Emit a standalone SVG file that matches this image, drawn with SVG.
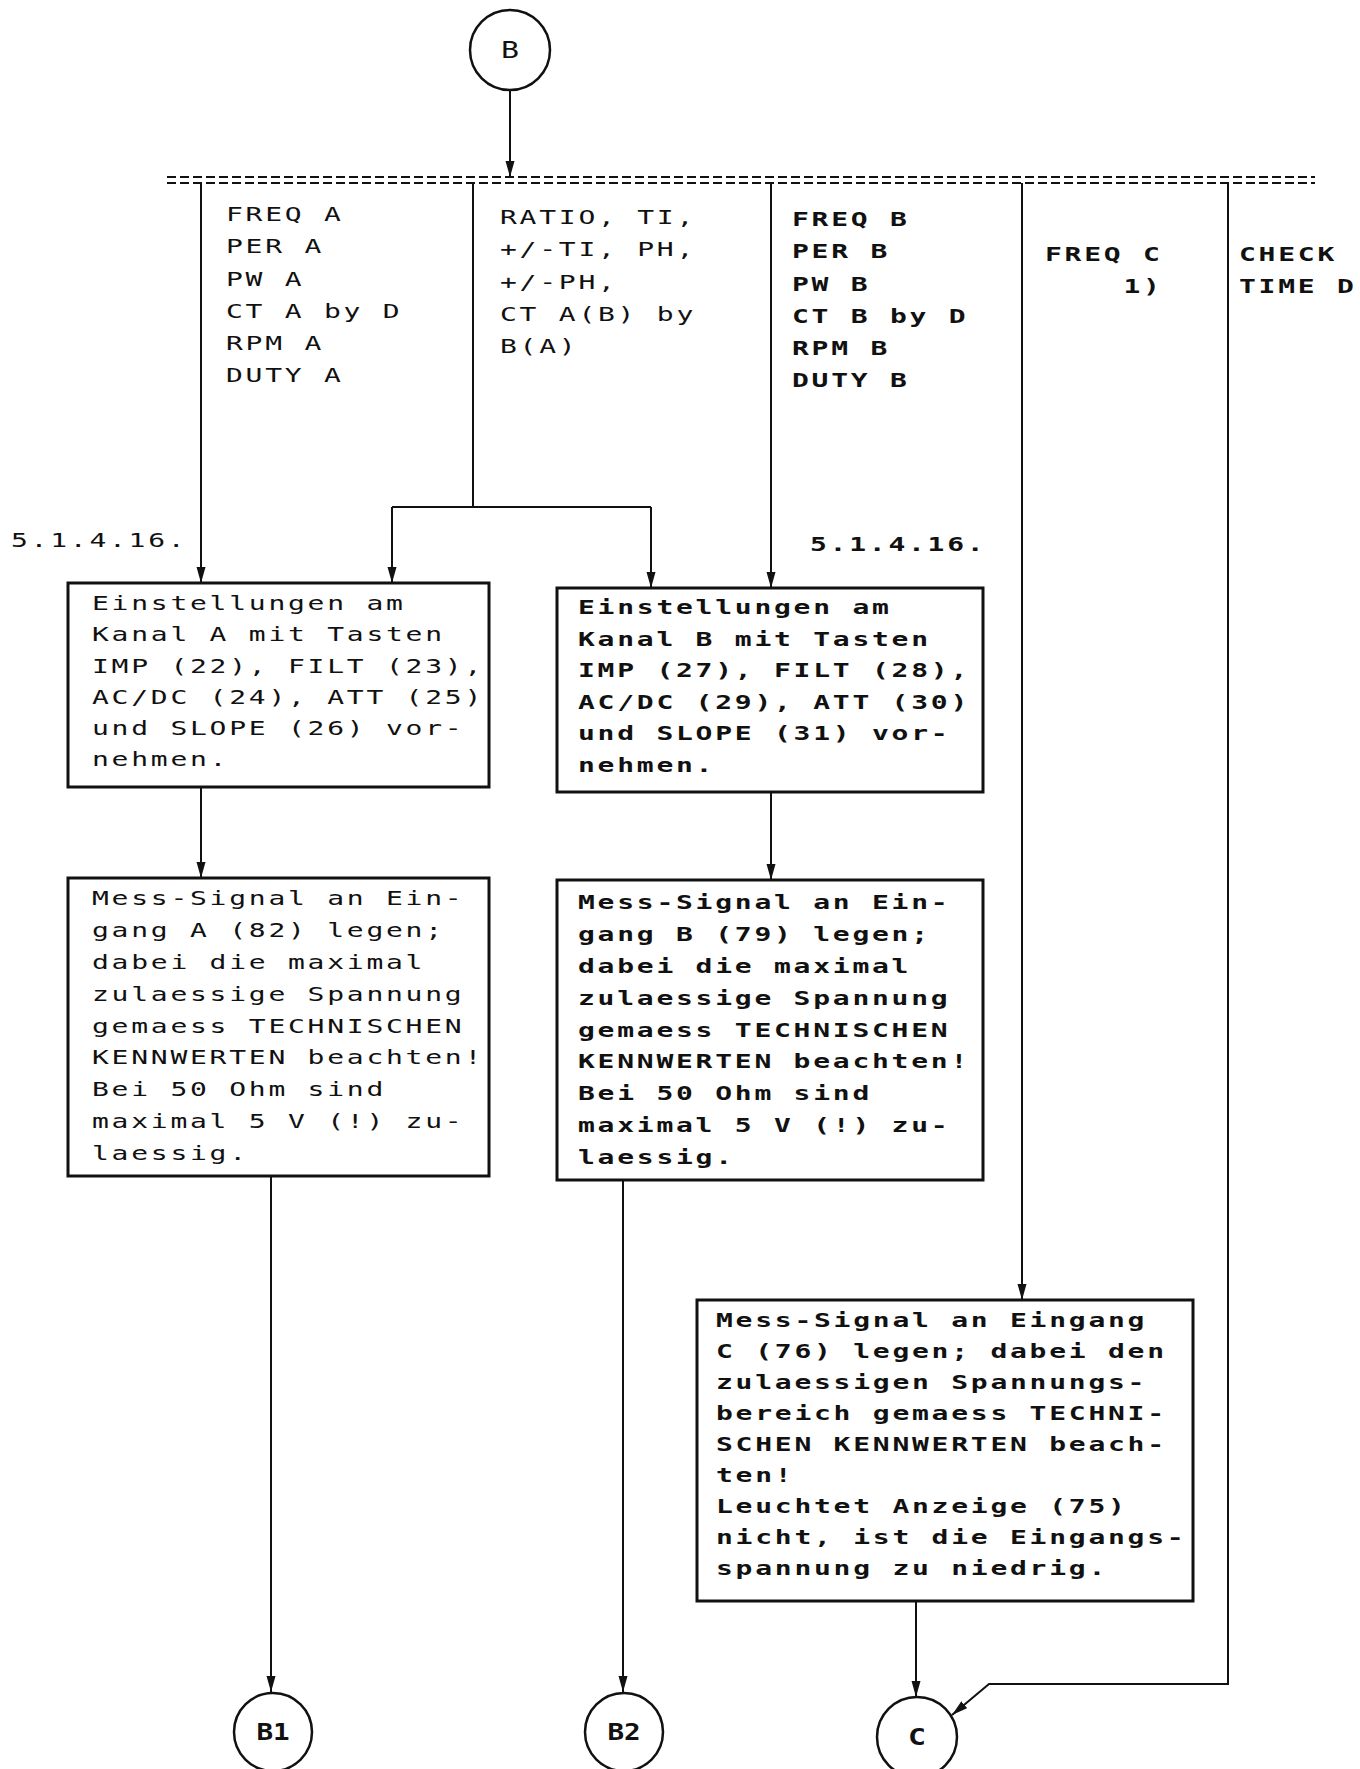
<svg xmlns="http://www.w3.org/2000/svg" width="1360" height="1769" viewBox="0 0 1360 1769">
<defs>
<marker id="ah" markerUnits="userSpaceOnUse" markerWidth="18" markerHeight="10" refX="16" refY="4.5" orient="auto">
<path d="M0,0 L16,4.5 L0,9 Z" fill="#111"/>
</marker>
<style>
.t{font-family:"DejaVu Sans Mono","Liberation Mono",monospace;font-size:20px;letter-spacing:1.96px;fill:#111}
.b{font-weight:bold}
.c{font-family:"DejaVu Sans Mono","Liberation Mono",monospace;font-size:23px;fill:#111;text-anchor:middle}
.box{fill:none;stroke:#111;stroke-width:3}
.circ{fill:none;stroke:#111;stroke-width:2.5}
.ln{fill:none;stroke:#111;stroke-width:2}
.arr{fill:none;stroke:#111;stroke-width:2;marker-end:url(#ah)}
.dbl{fill:none;stroke:#111;stroke-width:2;stroke-dasharray:9 4}
</style>
</defs>
<rect width="1360" height="1769" fill="#fff"/>

<g id="connectors">
<line class="arr" x1="510" y1="90" x2="510" y2="177"/>
<line class="dbl" x1="167" y1="177" x2="1315" y2="177"/>
<line class="dbl" x1="167" y1="183" x2="1315" y2="183"/>
<line class="arr" x1="201" y1="183" x2="201" y2="583"/>
<polyline class="ln" points="473,183 473,507"/>
<polyline class="ln" points="392,507 651,507"/>
<line class="arr" x1="392" y1="507" x2="392" y2="583"/>
<line class="arr" x1="651" y1="507" x2="651" y2="588"/>
<line class="arr" x1="771" y1="183" x2="771" y2="588"/>
<line class="arr" x1="1022" y1="183" x2="1022" y2="1300"/>
<polyline class="arr" points="1228,183 1228,1684 989,1684 952,1715"/>
<line class="arr" x1="201" y1="787" x2="201" y2="878"/>
<line class="arr" x1="771" y1="792" x2="771" y2="880"/>
<line class="arr" x1="271" y1="1176" x2="271" y2="1692"/>
<line class="arr" x1="623" y1="1180" x2="623" y2="1692"/>
<line class="arr" x1="916" y1="1601" x2="916" y2="1697"/>
</g>

<g id="nodeB">
<circle class="circ" cx="510" cy="50" r="40"/>
<text class="c" transform="translate(510,58) scale(1.3,1)">B</text>
</g>

<g id="colA">
<text class="t" transform="translate(226,221) scale(1.4,1)"><tspan x="0" y="0">FREQ A</tspan><tspan x="0" y="32.3">PER A</tspan><tspan x="0" y="64.6">PW A</tspan><tspan x="0" y="96.9">CT A by D</tspan><tspan x="0" y="129.2">RPM A</tspan><tspan x="0" y="161.5">DUTY A</tspan></text>
</g>
<g id="colAB">
<text class="t" transform="translate(500,224) scale(1.4,1)"><tspan x="0" y="0">RATIO, TI,</tspan><tspan x="0" y="32.3">+/-TI, PH,</tspan><tspan x="0" y="64.6">+/-PH,</tspan><tspan x="0" y="96.9">CT A(B) by</tspan><tspan x="0" y="129.2">B(A)</tspan></text>
</g>
<g id="colB">
<text class="t b" transform="translate(792,226) scale(1.4,1)"><tspan x="0" y="0">FREQ B</tspan><tspan x="0" y="32.3">PER B</tspan><tspan x="0" y="64.6">PW B</tspan><tspan x="0" y="96.9">CT B by D</tspan><tspan x="0" y="129.2">RPM B</tspan><tspan x="0" y="161.5">DUTY B</tspan></text>
</g>
<g id="colC">
<text class="t b" transform="translate(1045,261) scale(1.4,1)"><tspan x="0" y="0">FREQ C</tspan><tspan x="56" y="32">1)</tspan></text>
</g>
<g id="colD">
<text class="t b" transform="translate(1239,261) scale(1.4,1)"><tspan x="0" y="0">CHECK</tspan><tspan x="0" y="32">TIME D</tspan></text>
</g>
<g id="ref1">
<text class="t" transform="translate(11,547) scale(1.4,1)">5.1.4.16.</text>
</g>
<g id="ref2">
<text class="t b" transform="translate(810,551) scale(1.4,1)">5.1.4.16.</text>
</g>

<g id="box1">
<rect class="box" x="68" y="583" width="421" height="204"/>
<text class="t" transform="translate(92,610) scale(1.4,1)"><tspan x="0" y="0">Einstellungen am</tspan><tspan x="0" y="31.3">Kanal A mit Tasten</tspan><tspan x="0" y="62.6">IMP (22), FILT (23),</tspan><tspan x="0" y="93.9">AC/DC (24), ATT (25)</tspan><tspan x="0" y="125.2">und SLOPE (26) vor-</tspan><tspan x="0" y="156.5">nehmen.</tspan></text>
</g>
<g id="box2">
<rect class="box" x="557" y="588" width="426" height="204"/>
<text class="t b" transform="translate(578,614) scale(1.4,1)"><tspan x="0" y="0">Einstellungen am</tspan><tspan x="0" y="31.6">Kanal B mit Tasten</tspan><tspan x="0" y="63.2">IMP (27), FILT (28),</tspan><tspan x="0" y="94.8">AC/DC (29), ATT (30)</tspan><tspan x="0" y="126.4">und SLOPE (31) vor-</tspan><tspan x="0" y="158">nehmen.</tspan></text>
</g>
<g id="box3">
<rect class="box" x="68" y="878" width="421" height="298"/>
<text class="t" transform="translate(92,905) scale(1.4,1)"><tspan x="0" y="0">Mess-Signal an Ein-</tspan><tspan x="0" y="31.9">gang A (82) legen;</tspan><tspan x="0" y="63.8">dabei die maximal</tspan><tspan x="0" y="95.7">zulaessige Spannung</tspan><tspan x="0" y="127.6">gemaess TECHNISCHEN</tspan><tspan x="0" y="159.5">KENNWERTEN beachten!</tspan><tspan x="0" y="191.4">Bei 50 Ohm sind</tspan><tspan x="0" y="223.3">maximal 5 V (!) zu-</tspan><tspan x="0" y="255.2">laessig.</tspan></text>
</g>
<g id="box4">
<rect class="box" x="557" y="880" width="426" height="300"/>
<text class="t b" transform="translate(578,909) scale(1.4,1)"><tspan x="0" y="0">Mess-Signal an Ein-</tspan><tspan x="0" y="31.9">gang B (79) legen;</tspan><tspan x="0" y="63.8">dabei die maximal</tspan><tspan x="0" y="95.7">zulaessige Spannung</tspan><tspan x="0" y="127.6">gemaess TECHNISCHEN</tspan><tspan x="0" y="159.5">KENNWERTEN beachten!</tspan><tspan x="0" y="191.4">Bei 50 Ohm sind</tspan><tspan x="0" y="223.3">maximal 5 V (!) zu-</tspan><tspan x="0" y="255.2">laessig.</tspan></text>
</g>
<g id="box5">
<rect class="box" x="697" y="1300" width="496" height="301"/>
<text class="t b" transform="translate(716,1327) scale(1.4,1)"><tspan x="0" y="0">Mess-Signal an Eingang</tspan><tspan x="0" y="31">C (76) legen; dabei den</tspan><tspan x="0" y="62">zulaessigen Spannungs-</tspan><tspan x="0" y="93">bereich gemaess TECHNI-</tspan><tspan x="0" y="124">SCHEN KENNWERTEN beach-</tspan><tspan x="0" y="155">ten!</tspan><tspan x="0" y="186">Leuchtet Anzeige (75)</tspan><tspan x="0" y="217">nicht, ist die Eingangs-</tspan><tspan x="0" y="248">spannung zu niedrig.</tspan></text>
</g>

<g id="nodeB1">
<circle class="circ" cx="273" cy="1732" r="39"/>
<text class="c b" transform="translate(273,1740) scale(1.2,1)">B1</text>
</g>
<g id="nodeB2">
<circle class="circ" cx="624" cy="1732" r="39"/>
<text class="c b" transform="translate(624,1740) scale(1.2,1)">B2</text>
</g>
<g id="nodeC">
<circle class="circ" cx="917" cy="1737" r="40"/>
<text class="c b" transform="translate(917,1745) scale(1.3,1)">C</text>
</g>
</svg>
